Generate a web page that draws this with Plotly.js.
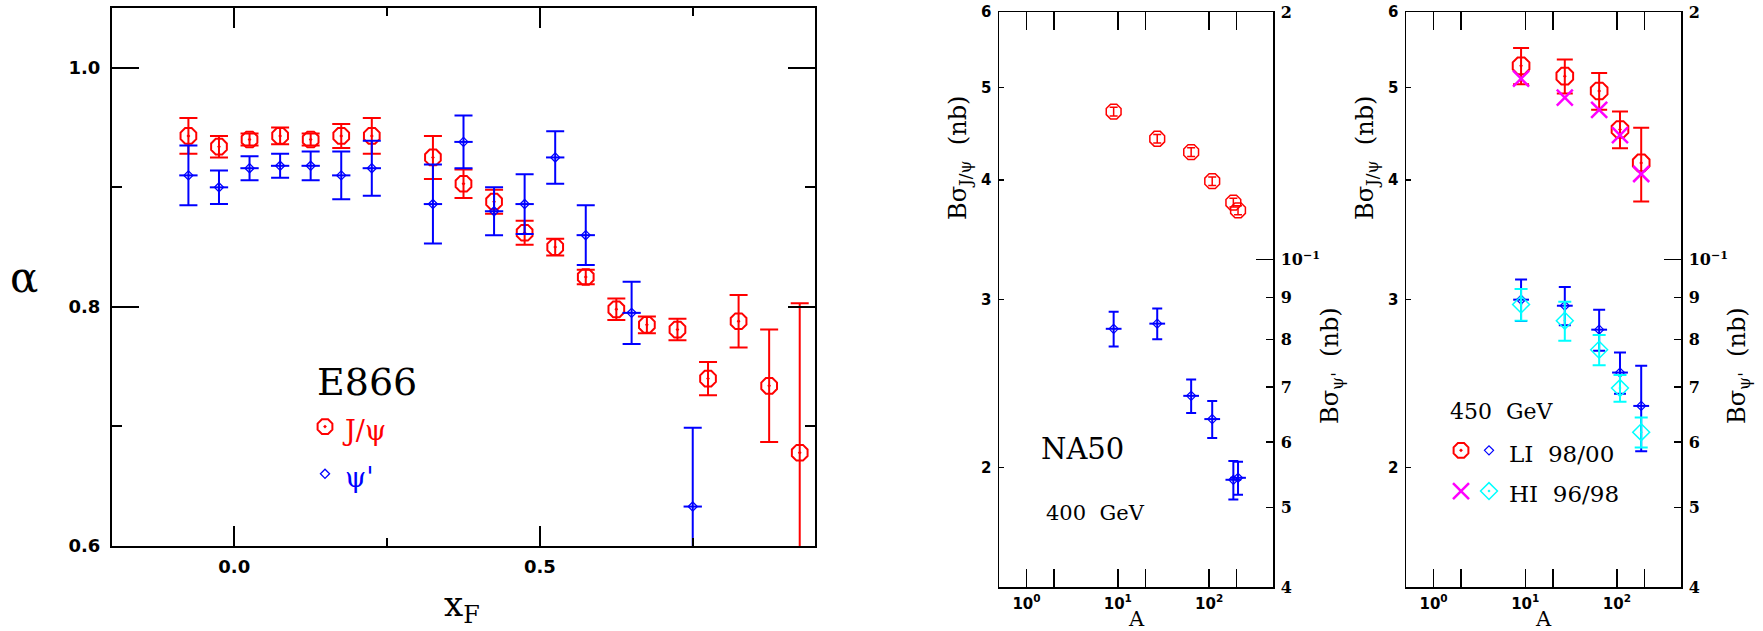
<!DOCTYPE html>
<html>
<head>
<meta charset="utf-8">
<script src="https://cdn.plot.ly/plotly-3.0.1.min.js"></script>
<style>html,body{margin:0;padding:0;background:#fff;}#chart{width:1763px;height:631px;}</style>
</head>
<body>
<div id="chart"></div>
<script>
// ---------- Panel 1 : E866, alpha vs xF ----------
const xF_jpsi = [-0.075,-0.025,0.025,0.075,0.125,0.175,0.225,0.325,0.375,0.425,0.475,0.525,0.575,0.625,0.675,0.725,0.775,0.825,0.875,0.925];
const alpha_jpsi = [0.943,0.934,0.940,0.943,0.940,0.943,0.943,0.925,0.903,0.888,0.862,0.850,0.825,0.798,0.785,0.781,0.740,0.788,0.734,0.678];
const alpha_jpsi_err = [0.015,0.009,0.005,0.007,0.005,0.010,0.015,0.018,0.012,0.010,0.010,0.007,0.006,0.009,0.007,0.009,0.014,0.022,0.047,0.125];
const xF_psip = [-0.075,-0.025,0.025,0.075,0.125,0.175,0.225,0.325,0.375,0.425,0.475,0.525,0.575,0.65,0.75];
const alpha_psip = [0.910,0.900,0.916,0.918,0.918,0.910,0.916,0.886,0.938,0.880,0.886,0.925,0.860,0.795,0.633];
const alpha_psip_err = [0.025,0.014,0.010,0.010,0.012,0.020,0.023,0.033,0.022,0.020,0.025,0.022,0.025,0.026,0.066];

// ---------- Panel 2 : NA50 400 GeV ----------
const A_na50 = [9, 27, 63.5, 108, 184, 207];
const jpsi_na50 = [4.72, 4.42, 4.28, 3.99, 3.79, 3.72];
const jpsi_na50_err = [0.05, 0.045, 0.045, 0.04, 0.04, 0.04];
const psip_na50 = [0.0824, 0.0836, 0.0683, 0.0640, 0.0540, 0.0543];
const psip_na50_err = [0.0040, 0.0036, 0.0032, 0.0033, 0.0029, 0.0025];

// ---------- Panel 3 : 450 GeV ----------
const A_450 = [9, 27, 64, 108, 184];
const jpsi_li = [5.27, 5.14, 4.96, 4.52, 4.17];
const jpsi_li_err = [0.23, 0.21, 0.22, 0.20, 0.37];
const jpsi_hi = [5.11, 4.88, 4.74, 4.46, 4.06];
const psip_li = [0.0894, 0.0879, 0.0822, 0.0729, 0.0664];
const psip_li_err = [0.0052, 0.0047, 0.0047, 0.0042, 0.0079];
const psip_hi = [0.0882, 0.0843, 0.0777, 0.0698, 0.0617];
const psip_hi_err = [0.0039, 0.0046, 0.0033, 0.0026, 0.0026];

// ---------- tick labels ----------
const logA_ticks = [1, 10, 100];
const logA_ticktext = ['10<sup>0</sup>', '10<sup>1</sup>', '10<sup>2</sup>'];
const logA_minor = [2, 20, 200];
const jpsi_ticks = [2, 3, 4, 5, 6];
const psip_ticks = [0.04, 0.05, 0.06, 0.07, 0.08, 0.09, 0.1, 0.2];
const psip_ticktext = ['4', '5', '6', '7', '8', '9', '10<sup>−1</sup>', '2'];

const W = 1763, H = 631;
const px = v => v / W;
const py = v => 1 - v / H;

const RED = '#ff0000', BLUE = '#0000ff', MAG = '#ff00ff', CYAN = '#00ffff';
const serif = 'DejaVu Serif';
const sans = 'DejaVu Sans';
const NB = '\u00a0';

const traces = [
  {
    x: xF_jpsi, y: alpha_jpsi, xaxis: 'x', yaxis: 'y', mode: 'markers', type: 'scatter',
    name: '<span style="color:#ff0000;font-size:27px">J/ψ</span>', legend: 'legend',
    marker: {symbol: 'octagon-open-dot', size: 17, color: RED, line: {width: 2, color: RED}},
    error_y: {type: 'data', array: alpha_jpsi_err, color: RED, thickness: 2, width: 9}
  },
  {
    x: xF_psip, y: alpha_psip, xaxis: 'x', yaxis: 'y', mode: 'markers', type: 'scatter',
    name: '<span style="color:#0000ff;font-size:27px">ψ\'</span>', legend: 'legend',
    marker: {symbol: 'diamond-open', size: 7, color: BLUE, line: {width: 1.3, color: BLUE}},
    error_y: {type: 'data', array: alpha_psip_err, color: BLUE, thickness: 2, width: 9},
    error_x: {type: 'constant', value: 0.015, color: BLUE, thickness: 2, width: 0}
  },
  {
    x: A_na50, y: jpsi_na50, xaxis: 'x2', yaxis: 'y2', mode: 'markers', type: 'scatter', showlegend: false,
    name: 'NA50 J/ψ',
    marker: {symbol: 'octagon-open', size: 16, color: RED, line: {width: 1.5, color: RED}},
    error_y: {type: 'data', array: jpsi_na50_err, color: RED, thickness: 1.5, width: 4}
  },
  {
    x: A_na50, y: psip_na50, xaxis: 'x2', yaxis: 'y3', mode: 'markers', type: 'scatter', showlegend: false,
    name: "NA50 ψ'",
    marker: {symbol: 'diamond-open', size: 7, color: BLUE, line: {width: 1.2, color: BLUE}},
    error_y: {type: 'data', array: psip_na50_err, color: BLUE, thickness: 2, width: 5},
    error_x: {type: 'percent', symmetric: false, value: 22, valueminus: 18, color: BLUE, thickness: 2, width: 0}
  },
  {
    x: A_450, y: jpsi_li, xaxis: 'x3', yaxis: 'y4', mode: 'markers', type: 'scatter',
    name: '', legend: 'legend2',
    marker: {symbol: 'octagon-open-dot', size: 18, color: RED, line: {width: 2, color: RED}},
    error_y: {type: 'data', array: jpsi_li_err, color: RED, thickness: 2, width: 8}
  },
  {
    x: A_450, y: jpsi_hi, xaxis: 'x3', yaxis: 'y4', mode: 'markers', type: 'scatter',
    name: '', legend: 'legend2',
    marker: {symbol: 'x-thin-open', size: 16, color: MAG, line: {width: 2.5, color: MAG}}
  },
  {
    x: A_450, y: psip_li, xaxis: 'x3', yaxis: 'y5', mode: 'markers', type: 'scatter',
    name: '<span style="font-size:23px">LI' + NB + NB + '98/00</span>', legend: 'legend3',
    marker: {symbol: 'diamond-open', size: 7, color: BLUE, line: {width: 1.2, color: BLUE}},
    error_y: {type: 'data', array: psip_li_err, color: BLUE, thickness: 2, width: 6},
    error_x: {type: 'percent', symmetric: false, value: 22, valueminus: 18, color: BLUE, thickness: 2, width: 0}
  },
  {
    x: A_450, y: psip_hi, xaxis: 'x3', yaxis: 'y5', mode: 'markers', type: 'scatter',
    name: '<span style="font-size:23px">HI' + NB + NB + '96/98</span>', legend: 'legend3',
    marker: {symbol: 'diamond-open-dot', size: 13, color: CYAN, line: {width: 1.5, color: CYAN}},
    error_y: {type: 'data', array: psip_hi_err, color: CYAN, thickness: 2, width: 6.5}
  }
];

const lineStyle = {showline: true, linecolor: 'black', linewidth: 2, showgrid: false, zeroline: false,
  ticks: 'inside', tickcolor: 'black', tickwidth: 2};

const boldSans = (s) => ({family: sans, size: s, weight: 'bold', color: 'black'});
const boldSerif = (s) => ({family: serif, size: s, weight: 'bold', color: 'black'});

const logXAxis = (dom, anchor) => Object.assign({}, lineStyle, {
  type: 'log', domain: dom, anchor: anchor, range: [Math.log10(0.5), Math.log10(500)],
  mirror: 'allticks', tickmode: 'array', tickvals: logA_ticks, ticktext: logA_ticktext,
  ticklen: 18, tickwidth: 1.5, linewidth: 1.5, tickfont: boldSans(15), ticklabelstandoff: 2,
  minor: {tickmode: 'array', tickvals: logA_minor, ticklen: 6, tickwidth: 1.5, ticks: 'inside', tickcolor: 'black'}
});
const jpsiAxis = (dom, anchor) => Object.assign({}, lineStyle, {
  type: 'log', domain: dom, anchor: anchor, range: [Math.log10(1.5), Math.log10(6)],
  mirror: false, tickmode: 'array', tickvals: jpsi_ticks, ticktext: jpsi_ticks.map(String),
  ticklen: 5, tickwidth: 1.5, linewidth: 1.5, tickfont: boldSans(15), ticklabelstandoff: 3
});
const psipAxis = (over, anchor) => Object.assign({}, lineStyle, {
  type: 'log', overlaying: over, anchor: anchor, side: 'right', range: [Math.log10(0.04), Math.log10(0.2)],
  tickmode: 'array', tickvals: psip_ticks, ticktext: psip_ticktext,
  ticklen: 7, tickwidth: 1.5, linewidth: 1.5, tickfont: boldSerif(16), ticklabelstandoff: 3,
  minor: {tickmode: 'array', tickvals: [0.1], ticklen: 17, tickwidth: 1.5, ticks: 'inside', tickcolor: 'black'}
});

const dom1x = [px(112), px(815)], dom1y = [py(546), py(8)];
const dom2x = [px(999), px(1273)], dom23y = [py(587), py(12)];
const dom3x = [px(1406), px(1681)];

const ann = (x, y, text, font, extra) => Object.assign({
  x: px(x), y: py(y), xref: 'paper', yref: 'paper', text: text, showarrow: false,
  xanchor: 'center', yanchor: 'middle', font: font
}, extra || {});

const jTitle = 'Bσ<sub>J/ψ</sub>' + NB + NB + '(nb)';
const pTitle = 'Bσ<sub>ψ\'</sub>' + NB + NB + '(nb)';

const layout = {
  width: W, height: H,
  margin: {l: 0, r: 0, t: 0, b: 0},
  paper_bgcolor: 'white', plot_bgcolor: 'white',
  showlegend: true,
  xaxis: Object.assign({}, lineStyle, {
    domain: dom1x, anchor: 'y', range: [-0.2, 0.95], mirror: 'allticks',
    tick0: 0, dtick: 0.5, tickformat: '.1f', ticklen: 20, tickfont: boldSans(18), ticklabelstandoff: 3,
    minor: {tick0: 0, dtick: 0.25, ticklen: 8, tickwidth: 2, ticks: 'inside', tickcolor: 'black'}
  }),
  yaxis: Object.assign({}, lineStyle, {
    domain: dom1y, anchor: 'x', range: [0.6, 1.05], mirror: 'allticks',
    tick0: 0.6, dtick: 0.2, tickformat: '.1f', ticklen: 27, tickfont: boldSans(18), ticklabelstandoff: 6,
    minor: {tick0: 0.6, dtick: 0.1, ticklen: 10, tickwidth: 2, ticks: 'inside', tickcolor: 'black'}
  }),
  xaxis2: logXAxis(dom2x, 'y2'),
  yaxis2: jpsiAxis(dom23y, 'x2'),
  yaxis3: psipAxis('y2', 'x2'),
  xaxis3: logXAxis(dom3x, 'y4'),
  yaxis4: jpsiAxis(dom23y, 'x3'),
  yaxis5: psipAxis('y4', 'x3'),
  legend: {x: px(305), y: py(398), xanchor: 'left', yanchor: 'top', bgcolor: 'rgba(0,0,0,0)',
    borderwidth: 0, font: {family: serif, size: 34, color: 'black'}, itemclick: false, itemdoubleclick: false},
  legend2: {x: px(1441), y: py(425), xanchor: 'left', yanchor: 'top', bgcolor: 'rgba(0,0,0,0)',
    borderwidth: 0, font: {family: serif, size: 29, color: 'black'}, itemclick: false, itemdoubleclick: false},
  legend3: {x: px(1469), y: py(425), xanchor: 'left', yanchor: 'top', bgcolor: 'rgba(0,0,0,0)',
    borderwidth: 0, font: {family: serif, size: 29, color: 'black'}, itemclick: false, itemdoubleclick: false},
  annotations: [
    ann(24, 277, 'α', {family: serif, size: 42, color: 'black'}),
    ann(462, 606, 'x<sub>F</sub>', {family: serif, size: 34, color: 'black'}),
    ann(367, 382, 'E866', {family: serif, size: 38, color: 'black'}),
    ann(1082, 449, 'NA50', {family: serif, size: 29, color: 'black'}),
    ann(1095, 513, '400' + NB + NB + 'GeV', {family: serif, size: 21, color: 'black'}),
    ann(1502, 411, '450' + NB + NB + 'GeV', {family: serif, size: 22, color: 'black'}),
    ann(1136, 619, 'A', {family: serif, size: 21, color: 'black'}),
    ann(1543, 619, 'A', {family: serif, size: 21, color: 'black'}),
    ann(959, 158, jTitle, {family: serif, size: 24, color: 'black'}, {textangle: -90}),
    ann(1332, 366, pTitle, {family: serif, size: 24, color: 'black'}, {textangle: -90}),
    ann(1366, 158, jTitle, {family: serif, size: 24, color: 'black'}, {textangle: -90}),
    ann(1739, 366, pTitle, {family: serif, size: 24, color: 'black'}, {textangle: -90})
  ]
};

Plotly.newPlot('chart', traces, layout, {staticPlot: true, displayModeBar: false});
</script>
</body>
</html>
